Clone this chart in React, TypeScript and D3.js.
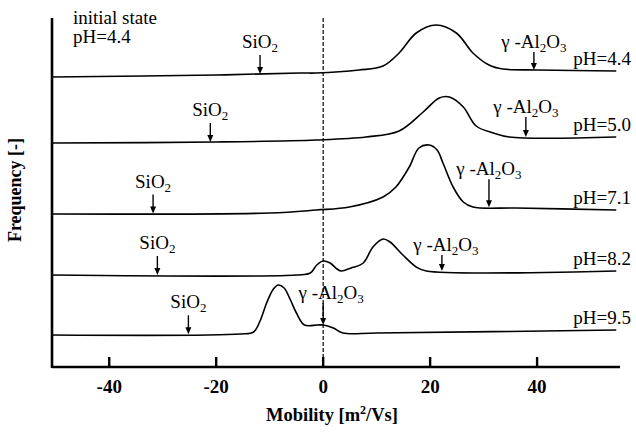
import React from "react";
import * as d3 from "d3";

// mobility [m2/Vs] vs frequency height above each trace's own baseline
const curve44 = [[-50.7, 0], [-20, 2], [-4.3, 4], [-1.3, 4], [6.7, 7], [11.2, 11], [14.2, 24], [17.4, 44], [21.1, 52], [24.9, 44], [28.0, 24], [31.0, 12], [33.6, 8], [40, 7], [54.8, 6]];
const curve50 = [[-50.7, 0], [-20, 1], [-1.3, 3], [8.0, 6], [14.2, 12], [18.7, 31], [21.7, 45], [23.6, 46], [26.2, 36], [28.6, 17], [31.8, 10], [34.8, 6], [54.8, 6]];
const curve71 = [[-50.7, 0], [-10, 1], [-1.3, 4], [4.9, 7], [11.2, 17], [13.6, 27], [16.1, 47], [17.9, 66], [19.8, 69], [21.3, 64], [22.4, 51], [24.3, 27], [26.2, 12], [28.0, 7], [36.1, 6], [54.8, 4]];
const curve82 = [[-50.7, 0], [-5, 0], [-2.4, 2], [-1.2, 10], [0, 14], [1.3, 12], [2.6, 6], [3.4, 4], [5.2, 7], [7.5, 12], [9.3, 28], [11.2, 36], [12.5, 33], [14.9, 20], [17.4, 8], [19.3, 4], [54.8, 4]];
const curve95 = [[-50.7, 0], [-15.5, 1], [-13, 3], [-11.8, 14], [-10.5, 33], [-9.3, 46], [-8.4, 50], [-7.3, 47], [-6.2, 36], [-5.0, 22], [-3.5, 10], [-1.1, 10], [0, 10], [1.9, 7], [3.7, 2], [10, 2], [54.8, 5]];

const curves = [curve44, curve50, curve71, curve82, curve95];
const phLabels = ["pH=4.4", "pH=5.0", "pH=7.1", "pH=8.2", "pH=9.5"];
const baselines = [290, 224, 153, 92, 32];
const sio2Pos = [-11.8, -21.1, -31.8, -31.0, -25.2];
const al2o3Pos = [39.4, 37.9, 31.0, 22.2, 0];
const al2o3Len = [18, 20, 28, 16, 22];
const mobilityTicks = [-40, -20, 0, 20, 40];

const W = 636;
const H = 432;
const serif = "'Liberation Serif', 'Times New Roman', serif";

const valueAt = (c, m) => {
  for (let i = 1; i < c.length; i++) {
    if (m <= c[i][0]) {
      const t = (m - c[i - 1][0]) / (c[i][0] - c[i - 1][0]);
      return c[i - 1][1] + t * (c[i][1] - c[i - 1][1]);
    }
  }
  return c[c.length - 1][1];
};

const Arrow = ({ x, yTop, yTip }) => (
  <g>
    <line x1={x} x2={x} y1={yTop} y2={yTip - 5} stroke="#000" strokeWidth={1.4} />
    <path d={`M${x - 3},${yTip - 7}L${x + 3},${yTip - 7}L${x},${yTip}Z`} fill="#000" />
  </g>
);

const App = () => {
  const x = d3.scaleLinear().domain([-50.7, 55.5]).range([52, 620]);
  const y = d3.scaleLinear().domain([0, 347]).range([367, 20]);

  return (
    <svg width={W} height={H} style={{ position: "absolute", left: 0, top: 0, background: "#fff" }} fontFamily={serif}>
      {/* traces */}
      {curves.map((c, i) => {
        const line = d3.line()
          .x(d => x(d[0]))
          .y(d => y(baselines[i] + d[1]))
          .curve(d3.curveCatmullRom.alpha(0.5));
        return <path key={i} d={line(c)} fill="none" stroke="#000" strokeWidth={1.6} />;
      })}

      {/* zero line */}
      <line x1={x(0)} x2={x(0)} y1={y(349)} y2={y(0)} stroke="#000" strokeWidth={1.2} strokeDasharray="4,2" />

      {/* axes */}
      <line x1={x(-50.7)} x2={x(-50.7)} y1={y(349)} y2={y(0) + 1} stroke="#000" strokeWidth={2.6} />
      <line x1={x(-50.7)} x2={x(55.5)} y1={y(0)} y2={y(0)} stroke="#000" strokeWidth={2.6} />
      {mobilityTicks.map(t => (
        <g key={t}>
          <line x1={x(t)} x2={x(t)} y1={y(0)} y2={y(10)} stroke="#000" strokeWidth={2.4} />
          <text x={x(t)} y={393} textAnchor="middle" fontWeight="bold" fontSize={19}>{t}</text>
        </g>
      ))}

      {/* arrows and labels */}
      {curves.map((c, i) => {
        const sTip = y(baselines[i] + valueAt(c, sio2Pos[i]));
        const sTop = sTip - 19;
        const aTip = y(baselines[i] + valueAt(c, al2o3Pos[i]));
        const aTop = aTip - al2o3Len[i];
        const base = y(baselines[i] + c[c.length - 1][1]);
        return (
          <g key={i}>
            <Arrow x={x(sio2Pos[i])} yTop={sTop} yTip={sTip} />
            <text x={x(sio2Pos[i])} y={sTop - 7} textAnchor="middle" fontSize={19}>
              SiO<tspan dy={4} fontSize={13}>2</tspan>
            </text>
            <Arrow x={x(al2o3Pos[i])} yTop={aTop} yTip={aTip} />
            <text x={x(al2o3Pos[i]) + (i === 4 ? 8 : i === 3 ? 4 : 0)} y={aTop - 4} textAnchor="middle" fontSize={19}>
              γ -Al<tspan dy={4} fontSize={13}>2</tspan><tspan dy={-4}>O</tspan><tspan dy={4} fontSize={13}>3</tspan>
            </text>
            <text x={631} y={base - 6} textAnchor="end" fontSize={19}>{phLabels[i]}</text>
          </g>
        );
      })}

      <text x={73} y={24} fontSize={19}>initial state</text>
      <text x={73} y={43} fontSize={19}>pH=4.4</text>

      {/* axis titles */}
      <text x={332} y={421} textAnchor="middle" fontWeight="bold" fontSize={18.5}>
        Mobility [m<tspan dy={-7} fontSize={12}>2</tspan><tspan dy={7}>/Vs]</tspan>
      </text>
      <text transform="translate(21,190) rotate(-90)" textAnchor="middle" fontWeight="bold" fontSize={18}>Frequency [-]</text>
    </svg>
  );
};

export default App;
